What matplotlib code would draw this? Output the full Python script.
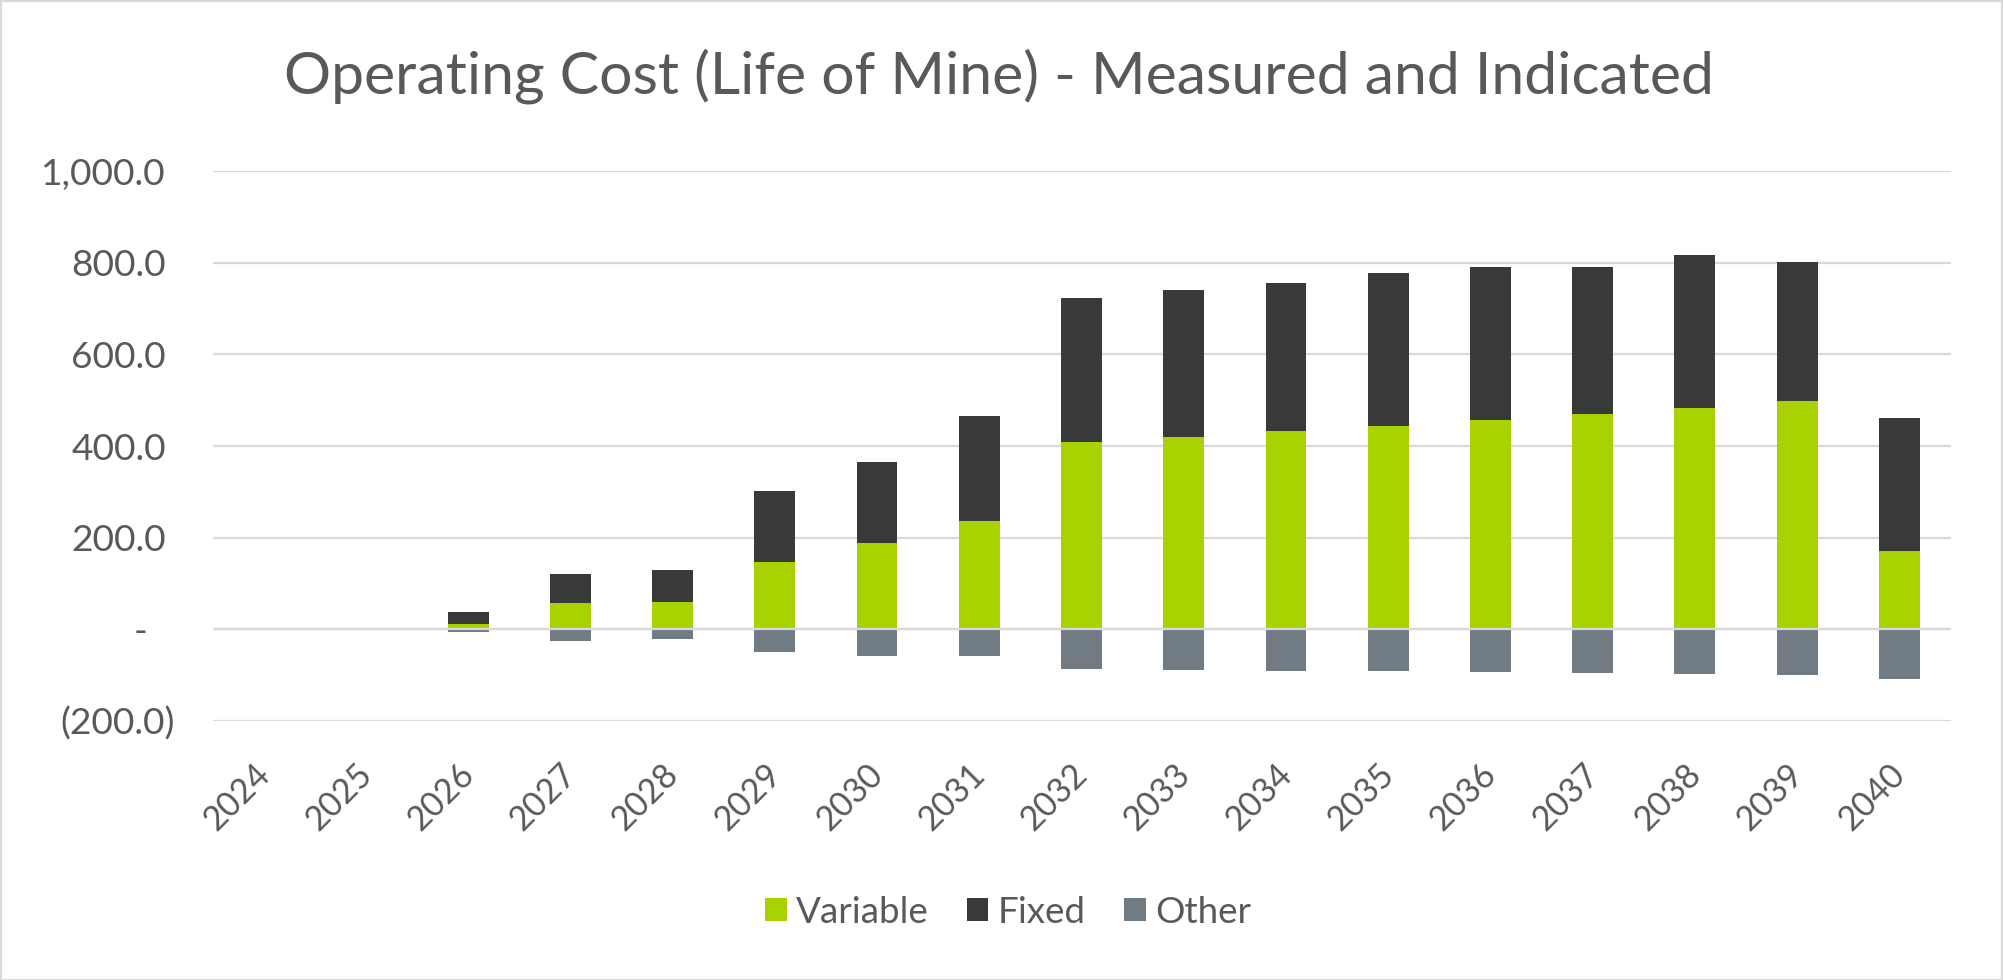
import matplotlib
matplotlib.use('Agg')
import matplotlib.pyplot as plt
from matplotlib.patches import Patch, Rectangle
from matplotlib.transforms import ScaledTranslation
import numpy as np

years = [str(y) for y in range(2024, 2041)]
variable = [0, 0, 11.5, 57, 60, 146, 188, 236, 409, 420, 432, 443, 456, 469, 484, 498, 170]
fixed = [0, 0, 26, 64, 70, 156, 178, 229, 315, 320, 324, 335, 335, 322, 333, 303, 292]
other = [0, 0, -6, -25, -22, -49.5, -58, -58, -87, -89, -92, -92, -94, -96, -98, -100, -109]
yticks = [-200, 0, 200, 400, 600, 800, 1000]
ytick_labels = ['(200.0)', '-', '200.0', '400.0', '600.0', '800.0', '1,000.0']
title = 'Operating Cost (Life of Mine) - Measured and Indicated'
series_names = ['Variable', 'Fixed', 'Other']
colors = ['#A8D300', '#383A3A', '#717B84']
text_color = '#595959'
grid_color = '#D9D9D9'

plt.rcParams['font.family'] = ['Lato', 'DejaVu Sans']

W, H = 2003, 980
fig = plt.figure(figsize=(W / 100, H / 100), dpi=100)
ax = fig.add_axes([212.5 / W, 1 - 721 / H, (1950.5 - 212.5) / W, (721 - 171) / H])
x = np.arange(len(years))
w = 0.40
var_arr = np.array(variable)
ax.bar(x, variable, w, color=colors[0], zorder=2, label=series_names[0])
ax.bar(x, fixed, w, bottom=var_arr, color=colors[1], zorder=2, label=series_names[1])
ax.bar(x, other, w, color=colors[2], zorder=2, label=series_names[2])
ax.set_xlim(-0.5, len(years) - 0.5)
ax.set_ylim(-200, 1000)
ax.set_yticks(yticks)
ax.set_yticklabels(ytick_labels)
ax.set_xticks(x)
ax.set_xticklabels(years, rotation=45, ha='right', rotation_mode='anchor', va='baseline')
ax.grid(axis='y', color=grid_color, lw=1.6, zorder=0)
ax.grid(axis='x', visible=False)
ax.axhline(0, color=grid_color, lw=1.6, zorder=3)
for s in ax.spines.values():
    s.set_visible(False)
ax.tick_params(length=0, colors=text_color)
ax.tick_params(axis='y', labelsize=26.7, pad=33.5)
ax.tick_params(axis='x', labelsize=24.5, pad=39.6)

ttl = fig.text(999 / W, 1 - 93 / H, title, ha='center', va='baseline', fontsize=40, color=text_color)
fig.canvas.draw()
tw = ttl.get_window_extent().width
ttl.set_fontsize(40 * 1427 / tw)

handles = [Patch(facecolor=c, edgecolor='none') for c in colors]
fig.legend(handles, series_names, loc='center', bbox_to_anchor=(1008 / W, 1 - 912 / H), ncol=3,
           frameon=False, fontsize=26.5, handlelength=0.58, handleheight=0.58,
           handletextpad=0.25, columnspacing=1.05, labelcolor=text_color)

fig.patches.append(Rectangle((0.5 / W, 0.5 / H), 1 - 1.5 / W, 1 - 1.5 / H, transform=fig.transFigure,
                             fill=False, edgecolor='#D9D9D9', lw=1.6))

fig.canvas.draw()
for lab in ax.get_xticklabels():
    lab.set_transform(lab.get_transform() + ScaledTranslation(8 / 100, 0, fig.dpi_scale_trans))
shifts = {'(200.0)': 9, '-': -19}
for lab in ax.get_yticklabels():
    dx = shifts.get(lab.get_text(), 0)
    if dx:
        lab.set_transform(lab.get_transform() + ScaledTranslation(dx / 100, 0, fig.dpi_scale_trans))

fig.savefig('out.png', dpi=100, facecolor='white')
